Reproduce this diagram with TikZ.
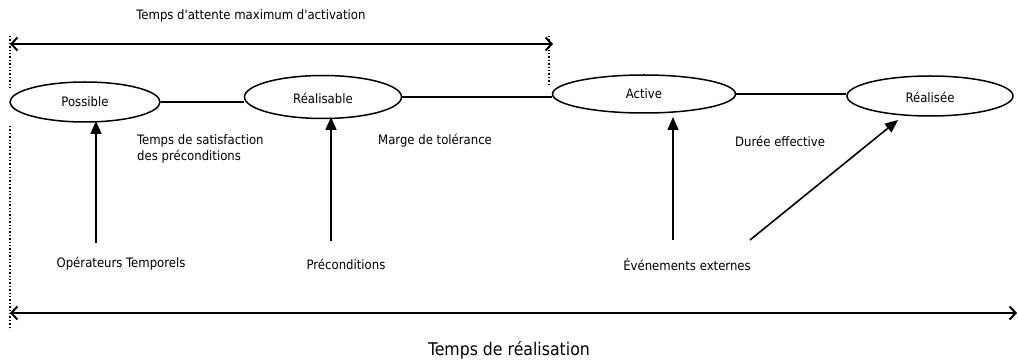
\documentclass[tikz,border=0pt]{standalone}
\usepackage{fontspec}
\setmainfont{DejaVu Sans Condensed}
\usetikzlibrary{shapes.geometric,arrows.meta}
\begin{document}
\begin{tikzpicture}[x=1pt,y=-1pt,
  state/.style={ellipse,draw,line width=1.5pt,inner sep=0pt},
  lbl/.style={font=\fontsize{13}{16}\selectfont,inner sep=0pt},
  lblleft/.style={lbl,anchor=west,align=left},
  conn/.style={line width=1.4pt},
  evarrow/.style={line width=1.6pt,-{Triangle[length=13pt,width=11pt]}},
  dim/.style={line width=2pt,{Straight Barb[length=6pt,width=13pt]}-{Straight Barb[length=6pt,width=13pt]}},
  guide/.style={line width=1.4pt,dotted}]
\useasboundingbox (0,0) rectangle (1018,363);
% states
\node[state,minimum width=150pt,minimum height=40pt] (possible) at (85,102) {};
\node[lbl] at (possible) {Possible};
\node[state,minimum width=157pt,minimum height=43pt] (realisable) at (323,97) {};
\node[lbl] at ([yshift=-1pt]realisable) {Réalisable};
\node[state,minimum width=183pt,minimum height=38pt] (active) at (644,94) {};
\node[lbl] at (active) {Active};
\node[state,minimum width=166pt,minimum height=40pt] (realisee) at (930,96) {};
\node[lbl] at ([yshift=-1pt]realisee) {Réalisée};
% connections
\draw[conn] (possible.east) -- (realisable.west |- possible.east);
\draw[conn] (realisable.east) -- (active.west |- realisable.east);
\draw[conn] (active.east) -- (realisee.west |- active.east);
% interval labels
\node[lblleft] (sat) at (137,149) {Temps de satisfaction\\des préconditions};
\node[lblleft] (marge) at (378,141) {Marge de tolérance};
\node[lblleft] (duree) at (735,141) {Durée effective};
% event labels
\node[lbl] (op) at (121,264) {Opérateurs Temporels};
\node[lbl] (pre) at (346,264) {Préconditions};
\node[lbl] (ev) at (687,265) {Événements externes};
% event arrows
\coordinate (op-t) at (96,243);
\coordinate (pre-t) at (331,241);
\coordinate (ev-t1) at (673,240);
\coordinate (ev-t2) at (750,240);
\draw[evarrow] (op-t) -- (96,121);
\draw[evarrow] (pre-t) -- (331,117);
\draw[evarrow] (ev-t1) -- (673,117);
\draw[evarrow] (ev-t2) -- (898,120);
% top dimension
\coordinate (d1a) at (10,44);
\coordinate (d1b) at (553,44);
\draw[dim] (d1a) -- (d1b);
\node[lbl] (attente) at (251,16) {Temps d\textquotesingle attente maximum d\textquotesingle activation};
\draw[guide] (10,36) -- (10,88);
\draw[guide] (549,36) -- (549,86);
% bottom dimension
\coordinate (d2a) at (10,313);
\coordinate (d2b) at (1017,313);
\draw[dim] (d2a) -- (d2b);
\draw[guide] (10,126) -- (10,330);
\node[font=\fontsize{17.5}{20}\selectfont,inner sep=0pt] (real) at (509,350) {Temps de réalisation};
\end{tikzpicture}
\end{document}
